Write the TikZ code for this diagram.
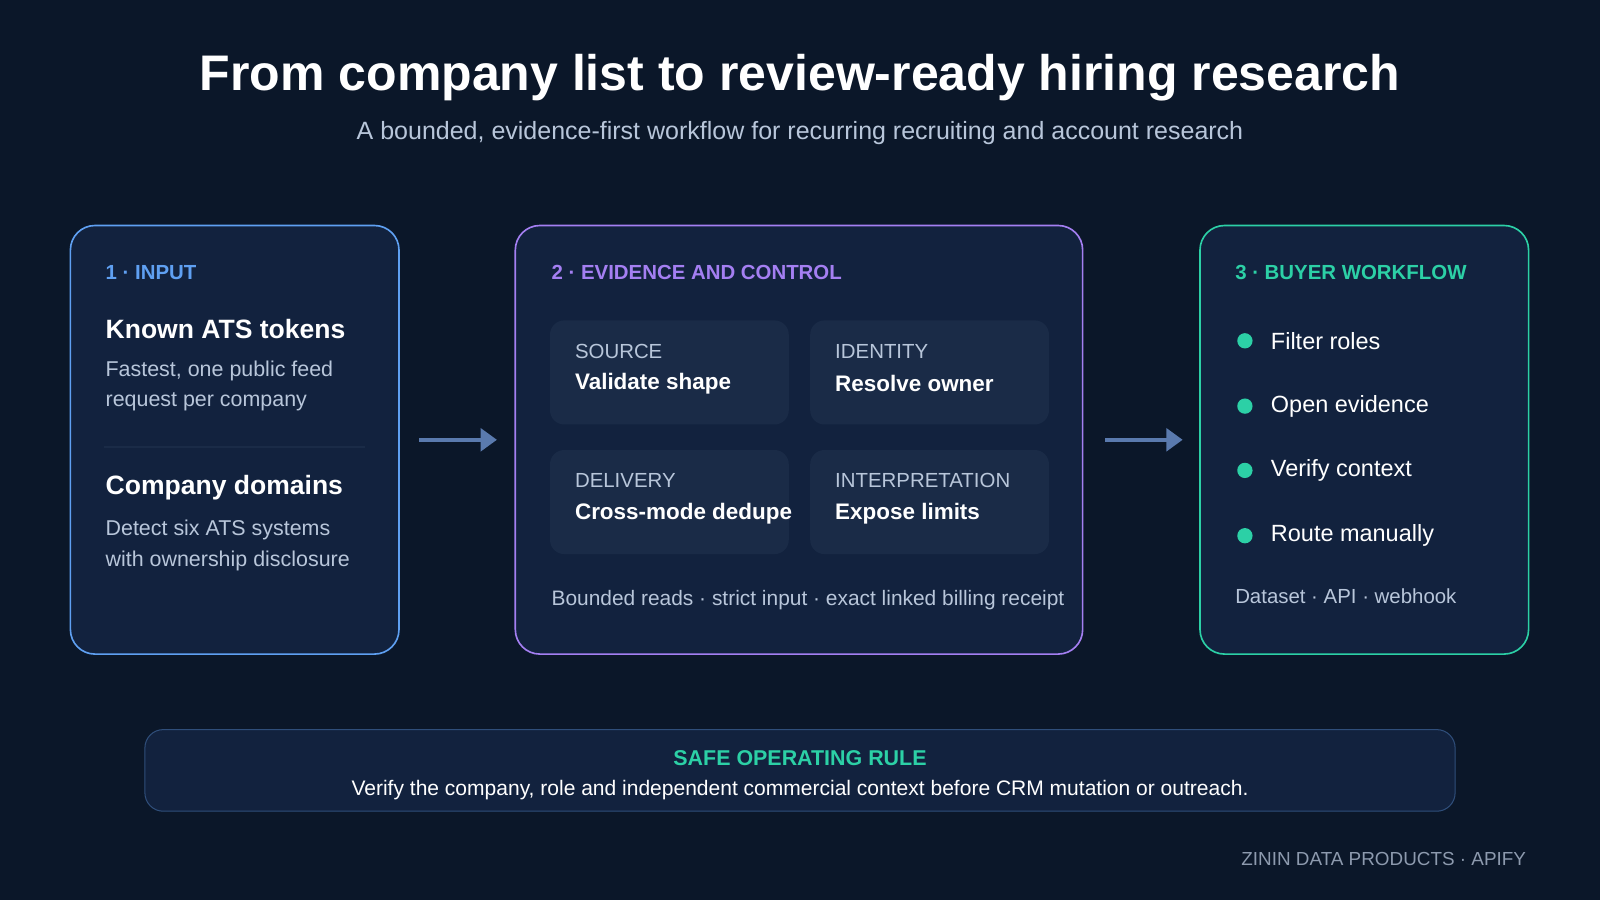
\documentclass[tikz,border=0pt]{standalone}
\usepackage{fontspec}
\setmainfont{Liberation Sans}
\usetikzlibrary{arrows.meta}
\definecolor{bg}{HTML}{0B1729}
\definecolor{panel}{HTML}{12223E}
\definecolor{card}{HTML}{1A2B47}
\definecolor{cblue}{HTML}{5FA0F2}
\definecolor{cpurp}{HTML}{A47FF2}
\definecolor{cgreen}{HTML}{2CD0A6}
\definecolor{soft}{HTML}{B8C6DA}
\definecolor{arr}{HTML}{5A7AAE}
\begin{document}
\begin{tikzpicture}[x=1pt,y=-1pt,
  panelbox/.style={draw,line width=1.6pt,rounded corners=24pt,fill=panel},
  cardbox/.style={fill=card,rounded corners=14pt},
  head/.style={anchor=west,font=\fontsize{20}{24}\selectfont\bfseries},
  big/.style={anchor=west,text=white,font=\fontsize{26}{30}\selectfont\bfseries},
  body/.style={anchor=north west,text=soft,align=left,font=\fontsize{21}{30}\selectfont},
  lab/.style={anchor=west,text=soft,font=\fontsize{20}{24}\selectfont},
  val/.style={anchor=west,text=white,font=\fontsize{22}{26}\selectfont\bfseries},
  item/.style={anchor=west,text=white,font=\fontsize{23}{28}\selectfont},
  flow/.style={draw=arr,line width=4pt,-{Triangle[length=16pt,width=22pt]}}]
\fill[bg] (0,0) rectangle (1568,882);
\useasboundingbox (0,0) rectangle (1568,882);
\node[text=white,font=\fontsize{49}{55}\selectfont\bfseries] (title) at (784,76) {From company list to review-ready hiring research};
\node[text=soft,font=\fontsize{24.5}{29}\selectfont] (sub) at (784,130) {A bounded, evidence-first workflow for recurring recruiting and account research};
% panel 1
\node[panelbox,draw=cblue,minimum width=322pt,minimum height=420pt] (p1) at (230,431) {};
\node[head,text=cblue] (h1) at (100,267) {1 · INPUT};
\node[big] (k1) at (100,322) {Known ATS tokens};
\node[body] (b1) at (100,350) {Fastest, one public feed\\request per company};
\draw[draw=card,line width=1.5pt] (102,438) -- (358,438);
\node[big] (k2) at (100,478) {Company domains};
\node[body] (b2) at (100,506) {Detect six ATS systems\\with ownership disclosure};
% panel 2
\node[panelbox,draw=cpurp,minimum width=556pt,minimum height=420pt] (p2) at (783,431) {};
\node[head,text=cpurp] (h2) at (537,267) {2 · EVIDENCE AND CONTROL};
\node[cardbox,minimum width=234pt,minimum height=102pt] (c1) at (656,365) {};
\node[cardbox,minimum width=234pt,minimum height=102pt] (c2) at (911,365) {};
\node[cardbox,minimum width=234pt,minimum height=102pt] (c3) at (656,492) {};
\node[cardbox,minimum width=234pt,minimum height=102pt] (c4) at (911,492) {};
\node[lab] (l1) at (560,344) {SOURCE};
\node[val] (v1) at (560,376) {Validate shape};
\node[lab] (l2) at (815,344) {IDENTITY};
\node[val] (v2) at (815,376) {Resolve owner};
\node[lab] (l3) at (560,471) {DELIVERY};
\node[val] (v3) at (560,503) {Cross-mode dedupe};
\node[lab] (l4) at (815,471) {INTERPRETATION};
\node[val] (v4) at (815,503) {Expose limits};
\node[lab,font=\fontsize{20.5}{24}\selectfont] (f2) at (537,588) {Bounded reads · strict input · exact linked billing receipt};
% panel 3
\node[panelbox,draw=cgreen,minimum width=322pt,minimum height=420pt] (p3) at (1337,431) {};
\node[head,text=cgreen] (h3) at (1207,267) {3 · BUYER WORKFLOW};
\foreach \y/\t [count=\i] in {334/Filter roles,398/Open evidence,461/Verify context,525/Route manually}{
  \fill[cgreen] (1220,\y) circle (7.5pt);
  \node[item] (i\i) at (1242,\y) {\t};
}
\node[lab] (f3) at (1207,584) {Dataset · API · webhook};
% arrows
\draw[flow] (411,431) -- (487,431);
\draw[flow] (1083,431) -- (1159,431);
% rule
\node[draw=card!70!cblue,line width=1pt,fill=panel,rounded corners=18pt,minimum width=1284pt,minimum height=80pt] (rule) at (784,755) {};
\node[text=cgreen,font=\fontsize{21}{24}\selectfont\bfseries] (rt) at (784,743) {SAFE OPERATING RULE};
\node[text=white,font=\fontsize{20.6}{24}\selectfont] (rb) at (784,774) {Verify the company, role and independent commercial context before CRM mutation or outreach.};
\node[anchor=east,text=soft!75!bg,font=\fontsize{18.5}{22}\selectfont] (foot) at (1499,842) {ZININ DATA PRODUCTS · APIFY};
\end{tikzpicture}
\end{document}
